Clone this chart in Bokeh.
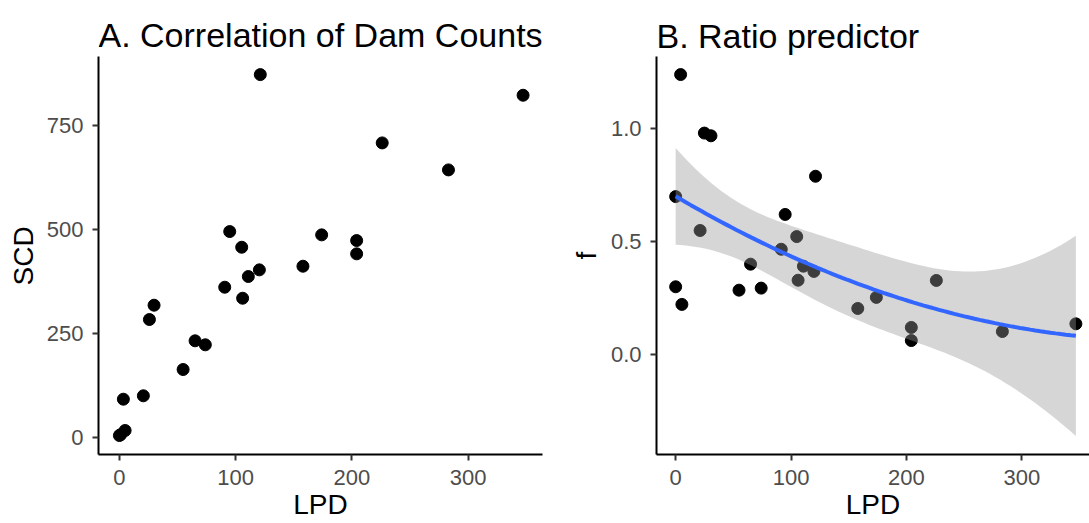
import numpy as np
from bokeh.plotting import figure
from bokeh.layouts import row
from bokeh.models import Range1d, FixedTicker, PrintfTickFormatter, Label, Title
from bokeh.embed import file_html
from bokeh.resources import INLINE

# ---- data ----
lpd_a = [0, 1, 3.4, 4.9, 20.6, 25.8, 29.8, 54.8, 65.1, 73.9, 90.6, 94.9, 105.2, 106.0,
         110.9, 120.4, 121.2, 157.9, 174.0, 204.1, 204.1, 226.1, 283.1, 347.3]
scd = [4, 6, 91.5, 16.1, 99.7, 283.4, 317.9, 163.0, 232.1, 222.5, 361.2, 495.3, 457.5, 334.7,
       387.0, 403.0, 873.3, 411.8, 487.3, 473.6, 441.6, 708.8, 643.8, 823.6]

lpd_b = [0, 0, 4.3, 5.4, 21.2, 24.9, 30.6, 54.9, 64.9, 74.1, 91.5, 94.9, 104.9, 106.1,
         110.7, 119.8, 121.2, 157.8, 173.9, 204.2, 204.2, 225.9, 283.1, 346.8]
f_vals = [0.700, 0.301, 1.240, 0.223, 0.550, 0.981, 0.969, 0.286, 0.401, 0.295, 0.467, 0.621,
          0.523, 0.330, 0.392, 0.369, 0.790, 0.205, 0.254, 0.121, 0.063, 0.329, 0.103, 0.137]

x_ticks = [0, 100, 200, 300]
scd_ticks = [0, 250, 500, 750]
f_ticks = [0.0, 0.5, 1.0]

FONT = "Liberation Sans"


def style(p, xlab, ylab, title, title_y, ybounds, ylab_offset, ylab_standoff):
    p.xgrid.visible = False
    p.ygrid.visible = False
    p.outline_line_color = None
    for ax in (p.xaxis[0], p.yaxis[0]):
        ax.major_label_text_font = FONT
        ax.major_label_text_font_size = "22px"
        ax.major_label_text_color = "#4D4D4D"
        ax.axis_line_color = "black"
        ax.axis_line_width = 2
        ax.major_tick_line_color = "#333333"
        ax.major_tick_line_width = 2
        ax.major_tick_in = 0
        ax.major_tick_out = 6
        ax.minor_tick_line_color = None
    xa = p.xaxis[0]
    xa.axis_label = xlab
    xa.axis_label_text_font = FONT
    xa.axis_label_text_font_size = "28px"
    xa.axis_label_text_font_style = "normal"
    xa.axis_label_text_color = "black"
    p.xaxis.major_label_standoff = 9
    p.xaxis.axis_label_standoff = 1
    p.yaxis.major_label_standoff = 9
    p.yaxis.bounds = ybounds
    # y-axis title, centred on the plotted data area (not the extended frame)
    p.add_layout(Title(text=ylab, align="left", vertical_align="bottom",
                       offset=ylab_offset, standoff=ylab_standoff,
                       text_font=FONT, text_font_size="28px",
                       text_font_style="normal", text_color="black"), "left")
    # panel title, drawn in the (extended) top area of the frame
    p.add_layout(Label(x=0, y=title_y, x_units="screen", y_units="data",
                       text=title, text_font=FONT, text_font_size="34px",
                       text_color="black", text_align="left",
                       text_baseline="alphabetic"))


# ---- panel A ----
pa = figure(width=562, height=523, output_backend="svg", toolbar_location=None,
            x_range=Range1d(-18, 364), y_range=Range1d(-41.7, 1051.8),
            min_border_left=97, min_border_right=20, min_border_top=0, min_border_bottom=69)
style(pa, "LPD", "SCD", "A. Correlation of Dam Counts", 967.5, (-41.7, 916.9), 169, 10)
pa.xaxis.ticker = FixedTicker(ticks=x_ticks)
pa.yaxis.ticker = FixedTicker(ticks=scd_ticks)
pa.scatter(lpd_a, scd, size=12, color="black")

# ---- panel B ----
xb = np.array(lpd_b, dtype=float)
yb = np.array(f_vals, dtype=float)
n = len(xb)
X = np.column_stack([np.ones(n), xb, xb ** 2])
beta = np.linalg.lstsq(X, yb, rcond=None)[0]
res = yb - X @ beta
s2 = res @ res / (n - 3)
XtXi = np.linalg.inv(X.T @ X)
xs = np.linspace(xb.min(), xb.max(), 80)
Xs = np.column_stack([np.ones_like(xs), xs, xs ** 2])
fit = Xs @ beta
se = np.sqrt(s2 * np.einsum("ij,jk,ik->i", Xs, XtXi, Xs))
tq = 2.0796  # t(0.975, df=21)
lo = fit - tq * se
hi = fit + tq * se

pb = figure(width=527, height=523, output_backend="svg", toolbar_location=None,
            x_range=Range1d(-16.6, 358.6), y_range=Range1d(-0.4412, 1.5677),
            min_border_left=90, min_border_right=0, min_border_top=0, min_border_bottom=69)
style(pb, "LPD", "f", "B. Ratio predictor", 1.4128, (-0.4412, 1.3199), 195, 12)
pb.xaxis.ticker = FixedTicker(ticks=x_ticks)
pb.yaxis.ticker = FixedTicker(ticks=f_ticks)
pb.yaxis.formatter = PrintfTickFormatter(format="%.1f")
pb.scatter(lpd_b, f_vals, size=12, color="black")
pb.varea(x=xs, y1=lo, y2=hi, fill_color="#999999", fill_alpha=0.4)
pb.line(xs, fit, line_color="#3366FF", line_width=4)

layout = row(pa, pb)
open("out.html", "w").write(file_html(layout, INLINE))
